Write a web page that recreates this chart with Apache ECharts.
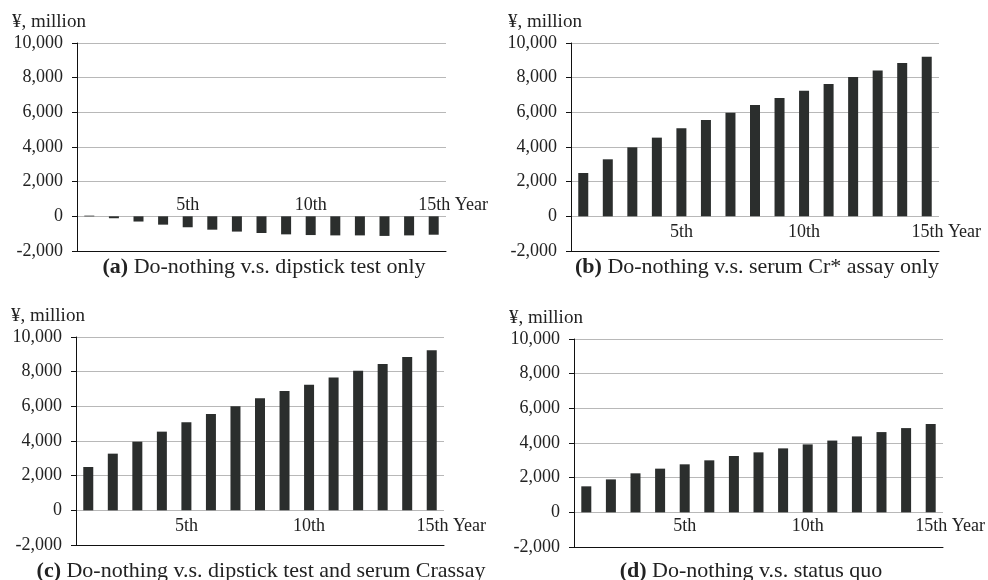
<!DOCTYPE html>
<html><head><meta charset="utf-8">
<script src="https://cdn.jsdelivr.net/npm/echarts@6/dist/echarts.min.js"></script>
<style>html,body{margin:0;padding:0;background:#fff}#c{width:988px;height:580px}</style>
</head><body><div id="c"></div>
<script>
const years = ['1','2','3','4','5','6','7','8','9','10','11','12','13','14','15'];
const tickLabels = ['', '', '', '', '5th', '', '', '', '', '10th', '', '', '', '', '15th'];
const dipstickOnly = [40, -110, -300, -480, -630, -770, -880, -960, -1040, -1080, -1100, -1100, -1130, -1100, -1060];
const serumOnly = [2500, 3290, 3980, 4540, 5080, 5560, 5980, 6420, 6830, 7250, 7640, 8040, 8420, 8850, 9210];
const dipstickAndSerum = [2500, 3270, 3960, 4540, 5080, 5560, 6000, 6460, 6880, 7250, 7670, 8060, 8440, 8850, 9230];
const statusQuo = [1500, 1900, 2250, 2520, 2770, 3000, 3250, 3460, 3690, 3920, 4140, 4380, 4630, 4860, 5100];
const captions = [
  '{b|(a)} Do-nothing v.s. dipstick test only',
  '{b|(b)} Do-nothing v.s. serum Cr* assay only',
  '{b|(c)} Do-nothing v.s. dipstick test and serum Crassay',
  '{b|(d)} Do-nothing v.s. status quo'
];
const unitLabel = '¥, million';
const lastSuffix = ' Year';

const FONT = '"Liberation Serif", "Times New Roman", serif';
const TXT = '#222';
const panels = [
  {data: dipstickOnly, grid: {left: 77, top: 43, width: 369, height: 208}, margin: -55, unit: [12, 13], cap: [264, 256]},
  {data: serumOnly, grid: {left: 571, top: 43, width: 368, height: 208}, margin: -28, unit: [508, 13], cap: [757, 256]},
  {data: dipstickAndSerum, grid: {left: 76, top: 337, width: 368, height: 208}, margin: -28, unit: [11, 307], cap: [261, 560]},
  {data: statusQuo, grid: {left: 574, top: 339, width: 369, height: 208}, margin: -30, unit: [509, 309], cap: [751, 560]}
];

const option = {
  backgroundColor: '#fff',
  animation: false,
  textStyle: {fontFamily: FONT},
  title: [],
  grid: [], xAxis: [], yAxis: [], series: []
};

panels.forEach((p, i) => {
  option.grid.push(Object.assign({outerBoundsMode: 'none', containLabel: false}, p.grid));
  option.xAxis.push({
    type: 'category', gridIndex: i, data: years,
    axisLine: {show: true, onZero: false, lineStyle: {color: '#111', width: 1}},
    axisTick: {show: false},
    splitLine: {show: false},
    axisLabel: {
      interval: 0, margin: p.margin, color: TXT, fontFamily: FONT, fontSize: 18,
      formatter: (v, idx) => {
        const t = tickLabels[idx];
        if (idx === tickLabels.length - 1) return '{y|' + t + lastSuffix + '}';
        return t;
      },
      rich: {y: {fontFamily: FONT, fontSize: 18, color: TXT, padding: [0, 0, 0, 39]}}
    }
  });
  option.yAxis.push({
    type: 'value', gridIndex: i, min: -2000, max: 10000, interval: 2000,
    axisLine: {show: true, lineStyle: {color: '#111', width: 1}},
    axisTick: {show: true, inside: false, length: 5, lineStyle: {color: '#111'}},
    splitLine: {show: true, lineStyle: {color: '#b8b8b8', width: 1}},
    axisLabel: {
      margin: 14, color: TXT, fontFamily: FONT, fontSize: 18,
      formatter: v => v.toLocaleString('en-US')
    }
  });
  option.series.push({
    type: 'bar', xAxisIndex: i, yAxisIndex: i, data: p.data,
    barWidth: 10, itemStyle: {color: '#2b2e2d'}
  });
  option.title.push({
    text: unitLabel, left: p.unit[0], top: p.unit[1], padding: 0,
    textStyle: {fontFamily: FONT, fontSize: 19, fontWeight: 'normal', color: TXT}
  });
  option.title.push({
    text: captions[i], left: p.cap[0], top: p.cap[1], padding: 0,
    textAlign: 'center', textVerticalAlign: 'top',
    textStyle: {fontFamily: FONT, fontSize: 22, fontWeight: 'normal', color: TXT,
      rich: {b: {fontFamily: FONT, fontSize: 22, fontWeight: 'bold', color: TXT}}}
  });
});

const chart = echarts.init(document.getElementById('c'), null, {renderer: 'canvas'});
chart.setOption(option);
</script>
</body></html>
